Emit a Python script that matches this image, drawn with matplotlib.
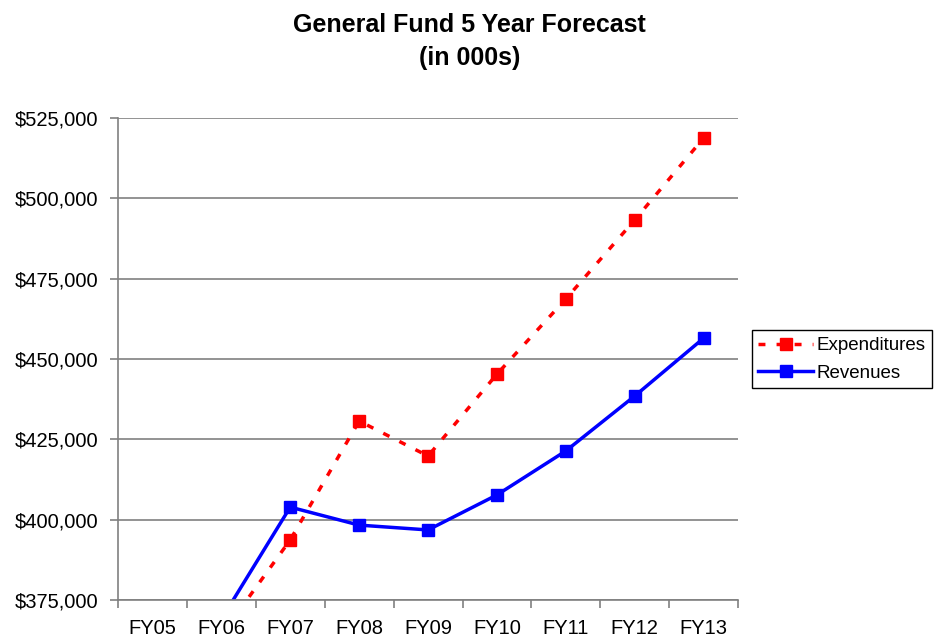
import numpy as np
import matplotlib.pyplot as plt
from matplotlib.ticker import FuncFormatter, FixedLocator

plt.rcParams['font.family'] = ['Liberation Sans', 'DejaVu Sans']

years = ['FY05', 'FY06', 'FY07', 'FY08', 'FY09', 'FY10', 'FY11', 'FY12', 'FY13']
expenditures = [350000, 364000, 393700, 430700, 419800, 445300, 468700, 493300, 518800]
revenues = [355000, 369000, 403900, 398300, 396800, 407700, 421400, 438500, 456500]

fig = plt.figure(figsize=(9.34, 6.38), dpi=100)
ax = fig.add_axes([0.1263, 0.0596, 0.664, 0.7554])

x = np.arange(len(years))
ax.plot(x, expenditures, color='#ff0000', lw=2.5, ls=(0, (2, 3.2)),
        marker='s', ms=8, mec='#ff0000', label='Expenditures')
ax.plot(x, revenues, color='#0000ff', lw=2.5,
        marker='s', ms=8, mec='#0000ff', label='Revenues')

ax.set_xlim(-0.5, len(years) - 0.5)
ax.set_ylim(375000, 525000)
ax.set_yticks(np.arange(375000, 525001, 25000))
ax.yaxis.set_major_formatter(FuncFormatter(lambda v, p: '${:,.0f}'.format(v)))
ax.grid(axis='y', color='#808080', lw=1.2)
ax.set_axisbelow(True)

# category labels centred, tick marks on the boundaries
ax.set_xticks(x)
ax.set_xticklabels(years)
ax.tick_params(axis='x', which='major', length=0, pad=14)
ax.xaxis.set_minor_locator(FixedLocator(np.arange(-0.5, len(years), 1)))
ax.tick_params(axis='x', which='minor', length=6, color='#808080', width=1.2)
ax.tick_params(axis='y', length=6, color='#808080', width=1.2, pad=8)
ax.tick_params(labelsize=14.5)

for s in ['top', 'right']:
    ax.spines[s].set_visible(False)
for s in ['left', 'bottom']:
    ax.spines[s].set_color('#808080')
    ax.spines[s].set_linewidth(1.2)

fig.suptitle('General Fund 5 Year Forecast\n(in 000s)', x=0.503, y=0.98,
             fontsize=18, fontweight='bold', linespacing=1.5)

fig.legend(loc='upper left', bbox_to_anchor=(0.805, 0.482), fontsize=13.5,
           frameon=True, fancybox=False, edgecolor='black', framealpha=1,
           borderpad=0.35, handlelength=2.9, handletextpad=0.2,
           labelspacing=0.55, borderaxespad=0)

fig.savefig('out.png', dpi=100)
